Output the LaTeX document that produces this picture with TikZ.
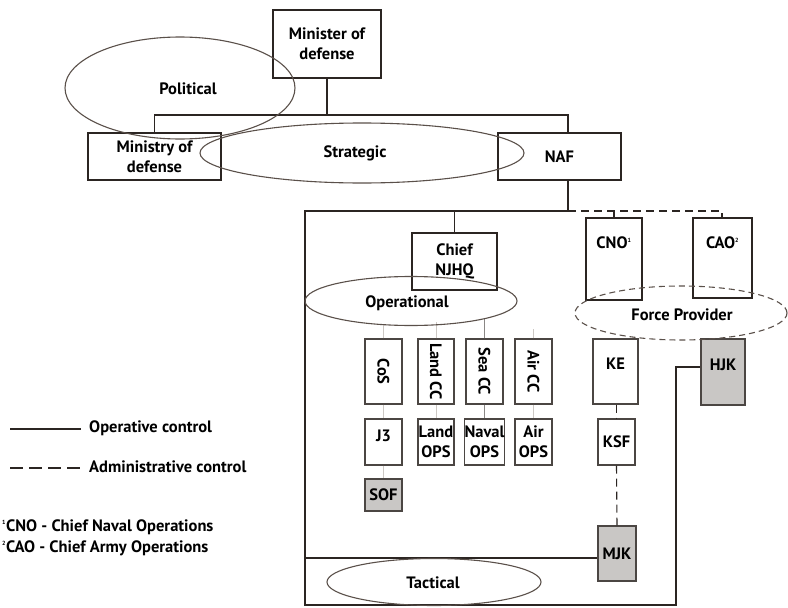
\documentclass[tikz,border=0pt]{standalone}
\usepackage{fontspec}
\setmainfont{PT Sans}
\usetikzlibrary{shapes.geometric}
\definecolor{ink}{HTML}{2B2522}
\definecolor{ell}{HTML}{5A504A}
\definecolor{boxgray}{HTML}{C9C7C5}
\definecolor{faint}{HTML}{CCC8C4}
\begin{document}
\begin{tikzpicture}[x=1pt,y=-1pt,
  font=\bfseries\fontsize{16.5}{20}\selectfont,
  bigbox/.style={draw=ink, line width=2.8pt, inner sep=0pt, align=center},
  smallbox/.style={draw=ink!85, line width=1.1pt, inner sep=0pt, align=center},
  graybox/.style={smallbox, fill=boxgray},
  lvl/.style={ellipse, draw=ell, line width=1.1pt, inner sep=0pt},
  conn/.style={draw=ink, line width=1.1pt},
  adm/.style={draw=ink, line width=1.1pt, dash pattern=on 8pt off 5pt},
  weak/.style={draw=faint, line width=0.8pt},
  lbl/.style={inner sep=0pt, align=center}]
\useasboundingbox (0,0) rectangle (788,608);

% top level boxes
\node[bigbox, minimum width=108pt, minimum height=68pt] (min) at (327,44) {Minister of\\defense};
\node[bigbox, minimum width=133pt, minimum height=47pt] (mod) at (154.5,156.5) {Ministry of\\defense};
\node[bigbox, minimum width=123pt, minimum height=47pt] (naf) at (559.5,156.5) {NAF};

\coordinate (hl) at (154.5,115);
\coordinate (hr) at (568,115);
\coordinate (ms) at (min.south |- hl);
\draw[conn] (min.south) -- (ms);
\draw[conn] (mod.north) -- (hl) -- (hr) -- (hr |- naf.north);

% second level
\node[bigbox, minimum width=85pt, minimum height=57pt] (njhq) at (454.5,261.5) {Chief\\NJHQ};
\node[bigbox, minimum width=56pt, minimum height=82pt] (cno) at (614,259) {};
\node[lbl] (cnot) at (614,243) {CNO\textsuperscript{\fontsize{6}{6}\selectfont 1}};
\node[bigbox, minimum width=59pt, minimum height=80pt] (cao) at (722.5,258) {};
\node[lbl] (caot) at (722.5,243) {CAO\textsuperscript{\fontsize{6}{6}\selectfont 2}};

% small boxes
\node[smallbox, minimum width=37pt, minimum height=65pt] (cos) at (383.5,371.5) {\rotatebox{-90}{CoS}};
\node[smallbox, minimum width=36pt, minimum height=65pt] (land) at (436,371.5) {\rotatebox{-90}{Land CC}};
\node[smallbox, minimum width=37pt, minimum height=65pt] (sea) at (484.5,371.5) {\rotatebox{-90}{Sea CC}};
\node[smallbox, minimum width=37pt, minimum height=65pt] (air) at (533.5,371.5) {\rotatebox{-90}{Air CC}};
\node[smallbox, minimum width=45pt, minimum height=65pt] (ke) at (615.5,371.5) {};
\node[lbl] (ket) at (615.5,364) {KE};
\node[graybox, minimum width=44pt, minimum height=66pt] (hjk) at (723,372) {};
\node[lbl] (hjkt) at (723,365) {HJK};

\node[smallbox, minimum width=37pt, minimum height=46pt] (j3) at (383.5,442) {};
\node[lbl] (j3t) at (383.5,436) {J3};
\node[smallbox, minimum width=36pt, minimum height=46pt] (lops) at (436,442) {Land\\OPS};
\node[smallbox, minimum width=37pt, minimum height=46pt] (nops) at (484.5,442) {Naval\\OPS};
\node[smallbox, minimum width=37pt, minimum height=46pt] (aops) at (533.5,442) {Air\\OPS};
\node[smallbox, minimum width=37pt, minimum height=46pt] (ksf) at (616.5,442) {KSF};

\node[graybox, minimum width=37pt, minimum height=32pt] (sof) at (383.5,495) {SOF};
\node[graybox, minimum width=38pt, minimum height=55pt] (mjk) at (617,553.5) {MJK};

% frame and control lines
\coordinate (tl) at (305,211);
\coordinate (tj) at (568,211);
\coordinate (tr) at (722,211);
\coordinate (bl) at (305,605);
\coordinate (br) at (676,605);
\coordinate (hjkin) at (676,367);
\coordinate (tacl) at (305,558);
\draw[conn] (naf.south -| tj) -- (tj);
\draw[conn] (tj) -- (tl) -- (bl) -- (br) -- (hjkin) -- (hjkin -| hjk.west);
\draw[conn] (njhq.north |- tl) -- (njhq.north);
\draw[adm] (tj) -- (tr) -- (cao.north -| tr);
\draw[conn] (cno.north |- tj) -- (cno.north);
\draw[conn] (tacl) -- (tacl -| mjk.west);
\draw[adm] (ke.south -| ksf.north) -- (ksf.north);
\draw[adm] (ksf.south) -- (mjk.north);

% faint operational links
\draw[weak] (cos.north) -- ++(0,-14);
\draw[weak] (land.north) -- ++(0,-16);
\draw[weak, draw=ink!55] (sea.north) -- ++(0,-20);
\draw[weak] (air.north) -- ++(0,-9);
\draw[weak] (cos.south) -- (j3.north);
\draw[weak] (land.south) -- (lops.north);
\draw[weak, draw=ink!55] (sea.south) -- (nops.north);
\draw[weak] (air.south) -- (aops.north);
\draw[weak] (j3.south) -- (sof.north);

% level ellipses
\node[lvl, minimum width=230pt, minimum height=102pt] (pol) at (180,88) {};
\node[lbl] (polt) at (188,89) {Political};
\node[lvl, minimum width=324pt, minimum height=60pt] (str) at (362,153) {};
\node[lbl] (strt) at (355,153) {Strategic};
\node[lvl, minimum width=212pt, minimum height=49pt] (opl) at (411,301) {};
\node[lbl] (oplt) at (407,303) {Operational};
\node[lvl, dash pattern=on 6pt off 4pt, minimum width=212pt, minimum height=54pt] (fp) at (681,313) {};
\node[lbl] (fpt) at (682,315) {Force Provider};
\node[lvl, minimum width=214pt, minimum height=47pt] (tac) at (434,582) {};
\node[lbl] (tact) at (433,583) {Tactical};

% legend
\coordinate (l1a) at (10,429);
\coordinate (l1b) at (81,429);
\coordinate (l2a) at (10,468);
\coordinate (l2b) at (82,468);
\draw[conn] (l1a) -- (l1b);
\node[lbl, anchor=west] (leg1) at (89,428) {Operative control};
\draw[conn, dash pattern=on 13pt off 6pt] (l2a) -- (l2b);
\node[lbl, anchor=west] (leg2) at (89,467) {Administrative control};
\node[lbl, anchor=west] (fn1) at (2,527) {\textsuperscript{\fontsize{6}{6}\selectfont 1}CNO - Chief Naval Operations};
\node[lbl, anchor=west] (fn2) at (2,548) {\textsuperscript{\fontsize{6}{6}\selectfont 2}CAO - Chief Army Operations};
\end{tikzpicture}
\end{document}
